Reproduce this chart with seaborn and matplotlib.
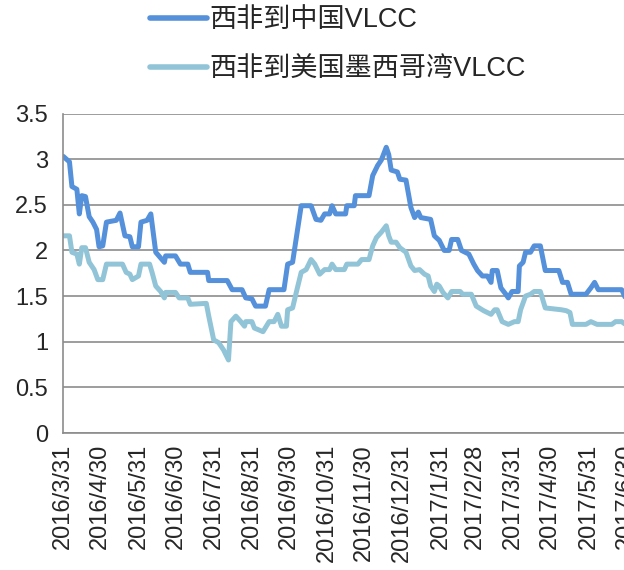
import pandas as pd
import matplotlib.pyplot as plt
import seaborn as sns

# West Africa -> China VLCC
china_dates = [
    "2016-03-31", "2016-04-05", "2016-04-07", "2016-04-11", "2016-04-13", "2016-04-15",
    "2016-04-18", "2016-04-21", "2016-04-24", "2016-04-27", "2016-04-29", "2016-05-02",
    "2016-05-05", "2016-05-13", "2016-05-16", "2016-05-20", "2016-05-24", "2016-05-26",
    "2016-05-31", "2016-06-02", "2016-06-07", "2016-06-10", "2016-06-14", "2016-06-21",
    "2016-06-22", "2016-06-30", "2016-07-04", "2016-07-10", "2016-07-12", "2016-07-26",
    "2016-07-27", "2016-08-11", "2016-08-15", "2016-08-23", "2016-08-26", "2016-08-31",
    "2016-09-03", "2016-09-11", "2016-09-14", "2016-09-26", "2016-09-29", "2016-10-03",
    "2016-10-10", "2016-10-18", "2016-10-22", "2016-10-26", "2016-10-29", "2016-11-02",
    "2016-11-04", "2016-11-07", "2016-11-15", "2016-11-16", "2016-11-22", "2016-11-23",
    "2016-12-04", "2016-12-07", "2016-12-11", "2016-12-14", "2016-12-18", "2016-12-20",
    "2016-12-22", "2016-12-27", "2016-12-29", "2017-01-03", "2017-01-07", "2017-01-10",
    "2017-01-13", "2017-01-15", "2017-01-23", "2017-01-26", "2017-01-30", "2017-02-03",
    "2017-02-07", "2017-02-09", "2017-02-14", "2017-02-17", "2017-02-23", "2017-02-27",
    "2017-03-02", "2017-03-06", "2017-03-10", "2017-03-13", "2017-03-14", "2017-03-18",
    "2017-03-21", "2017-03-25", "2017-03-27", "2017-03-30", "2017-04-04", "2017-04-05",
    "2017-04-08", "2017-04-10", "2017-04-14", "2017-04-17", "2017-04-22", "2017-04-26",
    "2017-05-07", "2017-05-10", "2017-05-14", "2017-05-17", "2017-05-29", "2017-06-02",
    "2017-06-05", "2017-06-08", "2017-06-27", "2017-06-30",
]
china_values = [
    3.03, 2.97, 2.70, 2.67, 2.40, 2.60,
    2.59, 2.37, 2.31, 2.23, 2.04, 2.05,
    2.31, 2.33, 2.41, 2.16, 2.15, 2.04,
    2.04, 2.31, 2.33, 2.40, 1.98, 1.87,
    1.94, 1.94, 1.85, 1.85, 1.76, 1.76,
    1.67, 1.67, 1.57, 1.57, 1.48, 1.47,
    1.39, 1.39, 1.57, 1.57, 1.85, 1.87,
    2.49, 2.49, 2.34, 2.33, 2.40, 2.40,
    2.49, 2.40, 2.40, 2.49, 2.49, 2.60,
    2.60, 2.82, 2.93, 2.99, 3.13, 3.05,
    2.88, 2.86, 2.78, 2.77, 2.47, 2.36,
    2.42, 2.36, 2.34, 2.16, 2.11, 2.00,
    2.00, 2.12, 2.12, 2.00, 1.96, 1.85,
    1.78, 1.72, 1.72, 1.65, 1.78, 1.78,
    1.59, 1.52, 1.48, 1.55, 1.55, 1.83,
    1.87, 1.98, 1.98, 2.05, 2.05, 1.78,
    1.78, 1.65, 1.65, 1.52, 1.52, 1.59,
    1.65, 1.57, 1.57, 1.48,
]

# West Africa -> US Gulf VLCC
gulf_dates = [
    "2016-03-31", "2016-04-05", "2016-04-07", "2016-04-11", "2016-04-13", "2016-04-15",
    "2016-04-18", "2016-04-21", "2016-04-25", "2016-04-28", "2016-05-02", "2016-05-05",
    "2016-05-18", "2016-05-21", "2016-05-24", "2016-05-26", "2016-05-31", "2016-06-02",
    "2016-06-09", "2016-06-11", "2016-06-14", "2016-06-18", "2016-06-21", "2016-06-22",
    "2016-06-30", "2016-07-03", "2016-07-10", "2016-07-12", "2016-07-25", "2016-07-27",
    "2016-07-31", "2016-08-04", "2016-08-08", "2016-08-12", "2016-08-14", "2016-08-18",
    "2016-08-22", "2016-08-25", "2016-08-26", "2016-08-31", "2016-09-02", "2016-09-09",
    "2016-09-14", "2016-09-18", "2016-09-21", "2016-09-24", "2016-09-28", "2016-09-29",
    "2016-10-03", "2016-10-06", "2016-10-10", "2016-10-14", "2016-10-18", "2016-10-21",
    "2016-10-25", "2016-10-29", "2016-11-02", "2016-11-04", "2016-11-07", "2016-11-14",
    "2016-11-16", "2016-11-25", "2016-11-28", "2016-12-04", "2016-12-07", "2016-12-10",
    "2016-12-14", "2016-12-18", "2016-12-20", "2016-12-22", "2016-12-26", "2016-12-29",
    "2017-01-03", "2017-01-07", "2017-01-10", "2017-01-14", "2017-01-18", "2017-01-21",
    "2017-01-23", "2017-01-26", "2017-01-28", "2017-01-30", "2017-02-02", "2017-02-06",
    "2017-02-09", "2017-02-16", "2017-02-18", "2017-02-25", "2017-03-01", "2017-03-07",
    "2017-03-13", "2017-03-16", "2017-03-18", "2017-03-22", "2017-03-27", "2017-04-01",
    "2017-04-04", "2017-04-06", "2017-04-10", "2017-04-14", "2017-04-17", "2017-04-22",
    "2017-04-26", "2017-05-09", "2017-05-13", "2017-05-16", "2017-05-18", "2017-05-29",
    "2017-06-02", "2017-06-07", "2017-06-19", "2017-06-22", "2017-06-27", "2017-06-30",
]
gulf_values = [
    2.16, 2.16, 1.98, 1.96, 1.85, 2.03,
    2.03, 1.87, 1.79, 1.68, 1.68, 1.85,
    1.85, 1.76, 1.74, 1.68, 1.72, 1.85,
    1.85, 1.76, 1.61, 1.55, 1.48, 1.54,
    1.54, 1.48, 1.48, 1.41, 1.42, 1.28,
    1.02, 0.99, 0.91, 0.80, 1.22, 1.28,
    1.22, 1.17, 1.22, 1.22, 1.15, 1.11,
    1.22, 1.22, 1.30, 1.17, 1.17, 1.35,
    1.37, 1.54, 1.76, 1.79, 1.90, 1.85,
    1.74, 1.79, 1.79, 1.85, 1.79, 1.79,
    1.85, 1.85, 1.90, 1.90, 2.05, 2.14,
    2.20, 2.27, 2.16, 2.09, 2.09, 2.03,
    1.98, 1.83, 1.78, 1.79, 1.74, 1.72,
    1.61, 1.55, 1.63, 1.61, 1.54, 1.48,
    1.55, 1.55, 1.52, 1.52, 1.39, 1.34,
    1.30, 1.35, 1.35, 1.22, 1.19, 1.22,
    1.22, 1.35, 1.50, 1.52, 1.55, 1.55,
    1.37, 1.35, 1.34, 1.32, 1.19, 1.19,
    1.22, 1.19, 1.19, 1.22, 1.22, 1.19,
]

series_names = ["西非到中国VLCC", "西非到美国墨西哥湾VLCC"]
series_colors = ["#5590DA", "#92C4D8"]
tick_labels = [
    "2016/3/31", "2016/4/30", "2016/5/31", "2016/6/30", "2016/7/31", "2016/8/31",
    "2016/9/30", "2016/10/31", "2016/11/30", "2016/12/31", "2017/1/31", "2017/2/28",
    "2017/3/31", "2017/4/30", "2017/5/31", "2017/6/30",
]
y_ticks = [0, 0.5, 1, 1.5, 2, 2.5, 3, 3.5]

sns.set_style("white")
plt.rcParams["font.family"] = ["Liberation Sans", "Noto Sans CJK SC"]

df = pd.concat([
    pd.DataFrame({"date": pd.to_datetime(china_dates), "value": china_values, "series": series_names[0]}),
    pd.DataFrame({"date": pd.to_datetime(gulf_dates), "value": gulf_values, "series": series_names[1]}),
])

fig = plt.figure(figsize=(6.24, 5.70), dpi=100)
ax = fig.add_axes([63.3 / 624, 1 - 433 / 570, (625.4 - 63.3) / 624, (433 - 113.5) / 570])

sns.lineplot(data=df, x="date", y="value", hue="series", hue_order=series_names,
             palette=series_colors, linewidth=3.6, ax=ax, legend=False)

tick_dates = pd.to_datetime(tick_labels, format="%Y/%m/%d")
ax.set_xlim(tick_dates[0], tick_dates[-1])
ax.set_ylim(0, 3.5)
ax.set_xticks(tick_dates)
ax.set_xticklabels(tick_labels, rotation=90)
ax.set_yticks(y_ticks)
ax.set_yticklabels([f"{v:g}" for v in y_ticks])
ax.set_xlabel("")
ax.set_ylabel("")

grid_color = "#8C8C8C"
ax.grid(axis="y", color=grid_color, linewidth=1.2)
ax.set_axisbelow(True)
for side in ["top", "right"]:
    ax.spines[side].set_visible(False)
for side in ["left", "bottom"]:
    ax.spines[side].set_color(grid_color)
    ax.spines[side].set_linewidth(1.2)
ax.tick_params(axis="both", which="major", labelsize=17, color=grid_color,
               direction="out", length=5, width=1.2, pad=3)
ax.tick_params(axis="y", pad=6)

handles = [plt.Line2D([], [], color=c, linewidth=4, solid_capstyle="round") for c in series_colors]
fig.legend(handles, series_names, loc="upper left", bbox_to_anchor=(150 / 624, 1 - 7 / 570),
           frameon=False, fontsize=19.5, handlelength=2.1, handletextpad=0.08,
           labelspacing=0.86, borderpad=0, borderaxespad=0)

fig.savefig("out.png", dpi=100)
